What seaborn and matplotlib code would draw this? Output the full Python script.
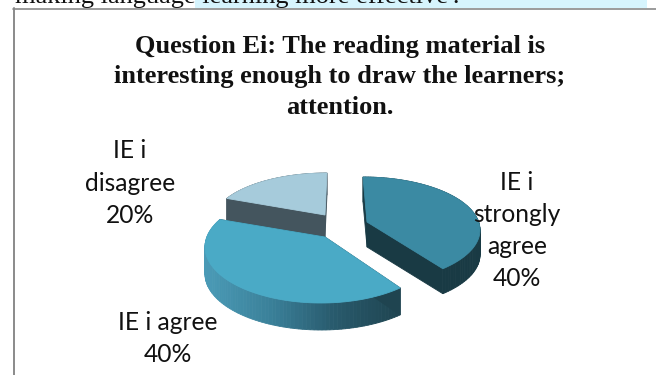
import numpy as np
import seaborn as sns
import matplotlib
matplotlib.use("Agg")
import matplotlib.pyplot as plt
from matplotlib.patches import Rectangle

# Survey responses
categories = ["IE i strongly agree", "IE i agree", "IE i disagree"]
shares = [40, 40, 20]

label_lines = [["IE i", "strongly", "agree", "40%"],
               ["IE i agree", "40%"],
               ["IE i", "disagree", "20%"]]
label_x = [517, 168, 130]
label_top = [182, 322, 151]

title_lines = ["Question Ei: The reading material is",
               "interesting enough to draw the learners;",
               "attention."]
caption = "making language learning more effective'."

# Exploded slice geometry, in figure pixels
ellipse_x = [363, 321, 327]
ellipse_y = [230, 247, 223]
radius_x = [117, 116, 115]
radius_y = [53, 56, 50]
apex_x = [367, 325, 325]
apex_y = [222, 237, 215]
depths = [25, 27, 22]
top_colors = ["#3b8aa3", "#4aaac6", "#a6cbdb"]
side_ramps = [["#193a44", "#193a44"],
              ["#4a9ab6", "#3a8099", "#28596b", "#1f4450"],
              ["#44555e", "#44555e"]]

sns.set_theme(style="white")
fig = plt.figure(figsize=(6.56, 3.75), dpi=100)
ax = fig.add_axes([0, 0, 1, 1])
ax.set_xlim(0, 656)
ax.set_ylim(375, 0)
ax.axis("off")

# Text line cut off by the chart box above it
ax.add_patch(Rectangle((195, 0), 452, 8, color="#d6f4fd", lw=0, zorder=0))
ax.text(15, 3.5, caption, family="Liberation Serif", fontsize=19,
        color="#111111", va="baseline", ha="left", zorder=1)

# Chart box: only the top and left edges are visible
ax.plot([13, 656], [8.5, 8.5], color="#8a8a8a", lw=1.2, zorder=2)
ax.plot([13.5, 13.5], [8, 375], color="#8a8a8a", lw=1.4, zorder=2)


def warp(theta_deg):
    # Perspective squeezes the far sectors and widens the near ones
    return np.radians(theta_deg + 12 * np.cos(np.radians(theta_deg)))


ends = 90 - np.cumsum(shares) / np.sum(shares) * 360
starts = np.concatenate([[90], ends[:-1]])

for i in [2, 1, 0]:
    theta = np.linspace(starts[i], ends[i], 90)
    phi = warp(theta)
    arc_x = ellipse_x[i] + radius_x[i] * np.cos(phi)
    arc_y = ellipse_y[i] - radius_y[i] * np.sin(phi)
    d = depths[i]

    # Outer wall, shaded along its width
    ramp = sns.blend_palette(side_ramps[i], n_colors=len(arc_x) - 1)
    left = arc_x.min()
    span = np.ptp(arc_x)
    for k in range(len(arc_x) - 1):
        xs = [arc_x[k], arc_x[k + 1], arc_x[k + 1], arc_x[k]]
        ys = [arc_y[k], arc_y[k + 1], arc_y[k + 1] + d, arc_y[k] + d]
        pos = int((0.5 * (arc_x[k] + arc_x[k + 1]) - left) / span * (len(ramp) - 1))
        ax.fill(xs, ys, color=ramp[pos], lw=0.6, zorder=3)

    # Cut faces running out from the apex
    wall = side_ramps[i][-1]
    for ex, ey in [(arc_x[0], arc_y[0]), (arc_x[-1], arc_y[-1])]:
        ax.fill([apex_x[i], ex, ex, apex_x[i]],
                [apex_y[i], ey, ey + d, apex_y[i] + d],
                color=wall, lw=0.6, zorder=3)

    # Top face
    ax.fill(np.r_[apex_x[i], arc_x], np.r_[apex_y[i], arc_y],
            color=top_colors[i], lw=0.6, zorder=3)

# Title
for line, y in zip(title_lines, [46, 77, 108]):
    ax.text(340, y, line, family="Liberation Serif", fontweight="bold",
            fontsize=19, color="#111111", ha="center", va="center", zorder=5)

# Slice labels sit on top of the pie
for lines, x, top in zip(label_lines, label_x, label_top):
    for j, line in enumerate(lines):
        ax.text(x, top + j * 32.3, line, family="Lato", fontsize=17.7,
                color="#111111", ha="center", va="center", zorder=5)

fig.savefig("out.png", dpi=100)
